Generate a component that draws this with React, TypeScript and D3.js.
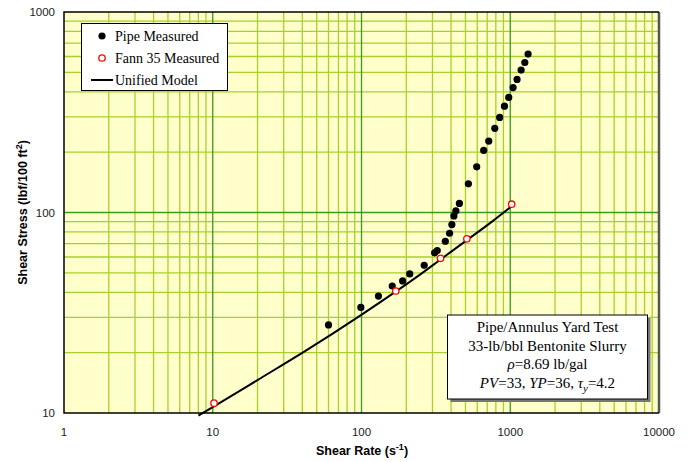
import React from "react";
import * as d3 from "d3";

const pipeRate = [60, 99, 130, 161, 189, 211, 264, 310, 323, 366, 391, 405, 418, 431, 455, 523, 595, 663, 717, 787, 849, 914, 977, 1045, 1111, 1183, 1253, 1318];
const pipeStress = [27.5, 33.6, 38.3, 43, 45.6, 49.4, 54.5, 62.9, 64.6, 71.9, 78.8, 87.1, 96.1, 102, 111, 139, 169, 204, 227, 263, 298, 339, 375, 420, 461, 513, 560, 617];

const fannRate = [10.2, 170, 340, 511, 1022];
const fannStress = [11.2, 40.6, 59.1, 73.9, 110];

const modelRate = [8, 10, 20, 42, 98, 164, 250, 340, 511, 750, 1022];
const modelStress = [9.7, 10.7, 14.6, 20.4, 30.6, 39.6, 49.3, 58.3, 72.8, 89.8, 107.5];

const xTicks = [1, 10, 100, 1000, 10000];
const yTicks = [10, 100, 1000];

const W = 694;
const H = 462;
const margin = { top: 12, right: 35, bottom: 49, left: 64 };

const App = () => {
  const x = d3.scaleLog().domain([1, 10000]).range([margin.left, W - margin.right]);
  const y = d3.scaleLog().domain([10, 1000]).range([H - margin.bottom, margin.top]);
  const [x0, x1] = x.range();
  const [y0, y1] = y.range();

  const minorX: number[] = [];
  [1, 10, 100, 1000].forEach((d) => {
    for (let k = 2; k <= 9; k++) minorX.push(k * d);
  });
  const minorY: number[] = [];
  [10, 100].forEach((d) => {
    for (let k = 2; k <= 9; k++) minorY.push(k * d);
  });

  const line = d3
    .line<number>()
    .x((i) => x(modelRate[i]))
    .y((i) => y(modelStress[i]))
    .curve(d3.curveMonotoneX);

  const minorColor = "#a8d02a";
  const majorColor = "#3a9a1c";
  const serif = "'Liberation Serif', 'Times New Roman', serif";
  const sans = "'Liberation Sans', Arial, sans-serif";

  return (
    <svg width={W} height={H} style={{ position: "absolute", left: 0, top: 0, background: "#fff" }}>
      <rect x={x0} y={y1} width={x1 - x0} height={y0 - y1} fill="#ffffcc" />
      {minorX.map((v) => (
        <line key={"mx" + v} x1={x(v)} x2={x(v)} y1={y1} y2={y0} stroke={minorColor} strokeWidth={1.3} />
      ))}
      {minorY.map((v) => (
        <line key={"my" + v} x1={x0} x2={x1} y1={y(v)} y2={y(v)} stroke={minorColor} strokeWidth={1.3} />
      ))}
      {[10, 100, 1000].map((v) => (
        <line key={"Mx" + v} x1={x(v)} x2={x(v)} y1={y1} y2={y0} stroke={majorColor} strokeWidth={1.3} />
      ))}
      <line x1={x0} x2={x1} y1={y(100)} y2={y(100)} stroke={majorColor} strokeWidth={1.3} />

      {/* frame */}
      <line x1={x1} x2={x1} y1={y1} y2={y0} stroke="#555" strokeWidth={2.5} />
      <path d={`M${x1},${y1}H${x0}V${y0}H${x1}`} fill="none" stroke="#000" strokeWidth={1.5} />

      {/* tick labels */}
      {yTicks.map((v) => (
        <text key={"yt" + v} x={x0 - 9} y={y(v)} dy="0.35em" textAnchor="end" fontFamily={sans} fontSize={11.5} fill="#222">
          {v}
        </text>
      ))}
      {xTicks.map((v) => (
        <text key={"xt" + v} x={x(v)} y={436} textAnchor="middle" fontFamily={sans} fontSize={11.5} fill="#222">
          {v}
        </text>
      ))}

      {/* axis titles */}
      <text x={362} y={455} textAnchor="middle" fontFamily={sans} fontSize={12.5} fontWeight="bold">
        Shear Rate (s
        <tspan dy={-5} fontSize={9}>-1</tspan>
        <tspan dy={5}>)</tspan>
      </text>
      <text transform={`translate(27,${(y0 + y1) / 2}) rotate(-90)`} textAnchor="middle" fontFamily={sans} fontSize={12.5} fontWeight="bold">
        Shear Stress (lbf/100 ft
        <tspan dy={-5} fontSize={9}>2</tspan>
        <tspan dy={5}>)</tspan>
      </text>

      {/* model */}
      <path d={line(d3.range(modelRate.length)) ?? ""} fill="none" stroke="#000" strokeWidth={2} />

      {pipeRate.map((r, i) => (
        <circle key={"p" + i} cx={x(r)} cy={y(pipeStress[i])} r={3.6} fill="#000" />
      ))}
      {fannRate.map((r, i) => (
        <circle key={"f" + i} cx={x(r)} cy={y(fannStress[i])} r={3.2} fill="#fff" stroke="#ff0000" strokeWidth={1.3} />
      ))}

      {/* legend */}
      <rect x={81.5} y={23.5} width={146} height={67} fill="#fff" stroke="#000" strokeWidth={1} />
      <circle cx={102} cy={36} r={3.6} fill="#000" />
      <text x={115} y={40.5} fontFamily={serif} fontSize={14}>Pipe Measured</text>
      <circle cx={102} cy={58} r={3.2} fill="#fff" stroke="#ff0000" strokeWidth={1.3} />
      <text x={115} y={62.5} fontFamily={serif} fontSize={14}>Fann 35 Measured</text>
      <line x1={91} x2={113} y1={80} y2={80} stroke="#000" strokeWidth={2} />
      <text x={115} y={85} fontFamily={serif} fontSize={14}>Unified Model</text>

      {/* annotation */}
      <rect x={450.5} y={318} width={200} height={84} fill="#777" />
      <rect x={447.5} y={315} width={200} height={84} fill="#fff" stroke="#000" strokeWidth={1} />
      <g fontFamily={serif} fontSize={15} textAnchor="middle">
        <text x={547.5} y={332}>Pipe/Annulus Yard Test</text>
        <text x={547.5} y={350.5}>33-lb/bbl Bentonite Slurry</text>
        <text x={547.5} y={369}>
          <tspan fontStyle="italic">ρ</tspan>=8.69 lb/gal
        </text>
        <text x={547.5} y={388}>
          <tspan fontStyle="italic">PV</tspan>=33, <tspan fontStyle="italic">YP</tspan>=36,{" "}
          <tspan fontStyle="italic">τ</tspan>
          <tspan fontStyle="italic" fontSize={11} dy={4}>y</tspan>
          <tspan dy={-4}>=4.2</tspan>
        </text>
      </g>
    </svg>
  );
};

export default App;
